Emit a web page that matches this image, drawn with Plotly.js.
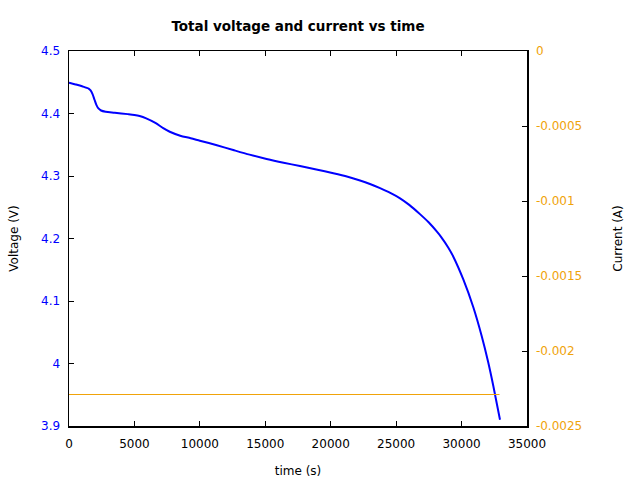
<!DOCTYPE html>
<html>
<head>
<meta charset="utf-8">
<script src="https://cdn.plot.ly/plotly-3.0.1.min.js"></script>
<style>html,body{margin:0;padding:0;background:#fff}#chart{width:640px;height:480px}</style>
</head>
<body>
<div id="chart"></div>
<script>
// Voltage vs time
var timeV = [0, 500, 1000, 1500, 1650, 1800, 1950, 2100, 2250, 2450, 2800, 3500, 4500, 5000, 5400, 5900, 6600, 7200, 7700, 8500, 9300, 10000, 11300, 12550, 13800, 15100, 16400, 17650, 18900, 20200, 21300, 22240, 23000, 23770, 24550, 25300, 26000, 26820, 27500, 28100, 28430, 28990, 29370, 30133, 30898, 31537, 32040, 32426, 32937];
var voltage = [4.4493, 4.4465, 4.4435, 4.4398, 4.437, 4.431, 4.422, 4.4135, 4.4082, 4.4048, 4.4028, 4.4012, 4.399, 4.3977, 4.396, 4.3923, 4.385, 4.3765, 4.3708, 4.3645, 4.3605, 4.3565, 4.3492, 4.3416, 4.3342, 4.3272, 4.3212, 4.316, 4.3105, 4.3045, 4.2988, 4.2928, 4.2872, 4.2805, 4.273, 4.2643, 4.2538, 4.239, 4.2255, 4.2113, 4.2027, 4.1853, 4.1709, 4.1345, 4.09, 4.044, 4.0015, 3.964, 3.91];

// Current vs time (constant)
var timeI = [0, 32900];
var current = [-0.00229, -0.00229];

// Tick labels
var xTicks = [0, 5000, 10000, 15000, 20000, 25000, 30000, 35000];
var xTickText = ["0", "5000", "10000", "15000", "20000", "25000", "30000", "35000"];
var vTicks = [3.9, 4.0, 4.1, 4.2, 4.3, 4.4, 4.5];
var vTickText = ["3.9", "4", "4.1", "4.2", "4.3", "4.4", "4.5"];
var iTicks = [-0.0025, -0.002, -0.0015, -0.001, -0.0005, 0];
var iTickText = ["-0.0025", "-0.002", "-0.0015", "-0.001", "-0.0005", "0"];

var blue = "#0000ff";
var orange = "#f0a30a";

var traces = [
  {x: timeV, y: voltage, type: "scatter", mode: "lines", line: {color: blue, width: 2, shape: "spline", smoothing: 0.8}, yaxis: "y", hoverinfo: "skip"},
  {x: timeI, y: current, type: "scatter", mode: "lines", line: {color: orange, width: 1}, yaxis: "y2", hoverinfo: "skip"}
];

var layout = {
  width: 640, height: 480,
  paper_bgcolor: "#fff", plot_bgcolor: "#fff",
  margin: {l: 69, r: 113, t: 51, b: 54, pad: 0},
  showlegend: false,
  font: {family: "DejaVu Sans", size: 12, color: "#000"},
  title: {text: "<b>Total voltage and current vs time</b>", font: {family: "DejaVu Sans", size: 13.5, color: "#000"}, x: 0.5, xref: "paper", xanchor: "center", y: 1 - 26/480, yanchor: "middle"},
  xaxis: {
    range: [0, 35000], tickvals: xTicks, ticktext: xTickText,
    ticks: "inside", ticklen: 5, tickcolor: "#000", tickwidth: 1, ticklabelstandoff: 6,
    showline: true, linecolor: "#000", linewidth: 1.5, mirror: "ticks",
    showgrid: false, zeroline: false,
    tickfont: {family: "DejaVu Sans", size: 12, color: "#000"},
    title: {text: "time (s)", font: {family: "DejaVu Sans", size: 12, color: "#000"}, standoff: 16}
  },
  yaxis: {
    range: [3.9, 4.5], tickvals: vTicks, ticktext: vTickText,
    ticks: "inside", ticklen: 5, tickcolor: "#000", tickwidth: 1, ticklabelstandoff: 5,
    showline: true, linecolor: "#000", linewidth: 1.5,
    showgrid: false, zeroline: false,
    tickfont: {family: "DejaVu Sans", size: 12, color: blue},
    title: {text: "Voltage (V)", font: {family: "DejaVu Sans", size: 12, color: "#000"}, standoff: 20}
  },
  yaxis2: {
    range: [-0.0025, 0], tickvals: iTicks, ticktext: iTickText,
    overlaying: "y", side: "right",
    ticks: "inside", ticklen: 5, tickcolor: "#000", tickwidth: 1, ticklabelstandoff: 5,
    showline: true, linecolor: "#000", linewidth: 1.5,
    showgrid: false, zeroline: false,
    tickfont: {family: "DejaVu Sans", size: 12, color: orange},
    title: {text: "Current (A)", font: {family: "DejaVu Sans", size: 12, color: "#000"}, standoff: 32}
  }
};

Plotly.newPlot("chart", traces, layout, {staticPlot: true, displayModeBar: false});
</script>
</body>
</html>
